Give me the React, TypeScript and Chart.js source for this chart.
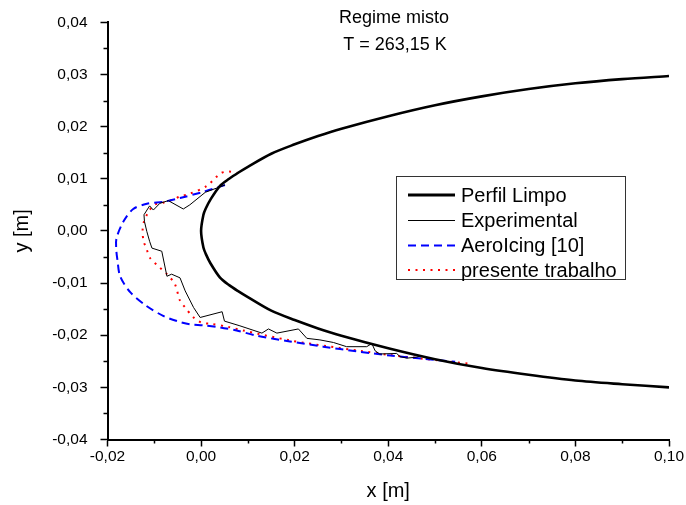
import React, { useEffect, useRef } from 'react';
import { Chart, registerables } from 'chart.js';

Chart.register(...registerables);

const FONT = '"Liberation Sans", Arial, sans-serif';

// Perfil Limpo (clean airfoil), upper surface from trailing side to leading edge, then lower surface
const profileX = [0.10, 0.09, 0.08, 0.07, 0.06, 0.05, 0.04, 0.03, 0.025, 0.02, 0.015, 0.010, 0.008, 0.006, 0.004, 0.002, 0.001, 0.0005, 0,
  0.0005, 0.001, 0.002, 0.004, 0.006, 0.008, 0.010, 0.015, 0.02, 0.025, 0.03, 0.04, 0.05, 0.06, 0.07, 0.08, 0.09, 0.10];
const profileY = [0.0297, 0.0291, 0.0283, 0.0272, 0.0258, 0.0241, 0.0220, 0.0196, 0.0182, 0.0166, 0.0148, 0.0123, 0.0112, 0.0100, 0.0086, 0.0060, 0.0043, 0.0031, 0,
  -0.0032, -0.0044, -0.0062, -0.0089, -0.0104, -0.0116, -0.0127, -0.0153, -0.0171, -0.0187, -0.0201, -0.0225, -0.0246, -0.0263, -0.0276, -0.0287, -0.0294, -0.0300];

// Experimental ice shape
const experimental: [number, number][] = [
  [0.0051, 0.0088], [0.0009, 0.0074], [-0.0024, 0.0050], [-0.0038, 0.0042], [-0.0070, 0.0058],
  [-0.0088, 0.0053], [-0.0102, 0.0040], [-0.0110, 0.0048], [-0.0122, 0.0031], [-0.0121, 0.0018],
  [-0.0116, -0.0001], [-0.0110, -0.0020], [-0.0105, -0.0033], [-0.0084, -0.0039], [-0.0073, -0.0087],
  [-0.0063, -0.0083], [-0.0045, -0.0090], [-0.0034, -0.0115], [-0.0016, -0.0147], [-0.0002, -0.0166],
  [0.0045, -0.0155], [0.0050, -0.0173], [0.0083, -0.0182], [0.0130, -0.0196], [0.0144, -0.0188],
  [0.0162, -0.0196], [0.0208, -0.0188], [0.0226, -0.0206], [0.0254, -0.0209], [0.0283, -0.0214],
  [0.0311, -0.0222], [0.0354, -0.0222], [0.0365, -0.0216], [0.0372, -0.0230], [0.0382, -0.0236],
  [0.0418, -0.0235], [0.0425, -0.0241], [0.0440, -0.0244], [0.0461, -0.0242], [0.0472, -0.0239],
];

// AeroIcing [10]
const aeroIcing: [number, number][] = [
  [0.0051, 0.0088], [0.0005, 0.0075], [-0.0045, 0.0063], [-0.0079, 0.0056], [-0.0116, 0.0052],
  [-0.0145, 0.0042], [-0.0166, 0.0018], [-0.0181, -0.0015], [-0.0181, -0.0039], [-0.0179, -0.0054],
  [-0.0173, -0.0087], [-0.0151, -0.0118], [-0.0118, -0.0143], [-0.0081, -0.0163], [-0.0051, -0.0173],
  [-0.0024, -0.0179], [0.0005, -0.0181], [0.0041, -0.0185], [0.0076, -0.0191], [0.0119, -0.0201],
  [0.0190, -0.0212], [0.0261, -0.0222], [0.0333, -0.0231], [0.0404, -0.0239], [0.0475, -0.0245],
  [0.0543, -0.0251],
];

// presente trabalho
const presente: [number, number][] = [
  [0.0080, 0.0111], [0.0058, 0.0114], [0.0041, 0.0110], [0.0012, 0.0086], [-0.0025, 0.0071],
  [-0.0045, 0.0066], [-0.0063, 0.0059], [-0.0081, 0.0054], [-0.0100, 0.0050], [-0.0114, 0.0034],
  [-0.0123, 0.0015], [-0.0125, -0.0001], [-0.0123, -0.0019], [-0.0116, -0.0036], [-0.0109, -0.0052],
  [-0.0091, -0.0068], [-0.0073, -0.0083], [-0.0056, -0.0102], [-0.0045, -0.0134], [-0.0034, -0.0147],
  [-0.0016, -0.0166], [0.0001, -0.0176], [0.0019, -0.0178], [0.0058, -0.0184], [0.0090, -0.0191],
  [0.0190, -0.0210], [0.0269, -0.0221], [0.0340, -0.0230], [0.0404, -0.0238], [0.0474, -0.0245],
  [0.0575, -0.0255],
];

const titleLines = ['Regime misto', 'T = 263,15 K'];
const legendLabels = ['Perfil Limpo', 'Experimental', 'AeroIcing [10]', 'presente trabalho'];

const fmt = (v: number) => (Math.abs(v) < 1e-9 ? '0,00' : v.toFixed(2).replace('.', ','));
const pts = (arr: [number, number][]) => arr.map(([x, y]) => ({ x, y }));

const decorPlugin = {
  id: 'decor',
  afterDraw(chart: any) {
    const ctx = chart.ctx as CanvasRenderingContext2D;
    const xs = chart.scales.x;
    const ys = chart.scales.y;
    const area = chart.chartArea;
    ctx.save();
    // minor ticks
    ctx.strokeStyle = '#000';
    ctx.lineWidth = 1.5;
    const xt = xs.ticks.map((t: any) => t.value);
    for (let i = 0; i < xt.length - 1; i++) {
      const px = Math.round(xs.getPixelForValue((xt[i] + xt[i + 1]) / 2)) + 0.5;
      ctx.beginPath();
      ctx.moveTo(px, area.bottom);
      ctx.lineTo(px, area.bottom + 4);
      ctx.stroke();
    }
    const yt = ys.ticks.map((t: any) => t.value);
    for (let i = 0; i < yt.length - 1; i++) {
      const py = Math.round(ys.getPixelForValue((yt[i] + yt[i + 1]) / 2)) + 0.5;
      ctx.beginPath();
      ctx.moveTo(area.left, py);
      ctx.lineTo(area.left - 4, py);
      ctx.stroke();
    }
    // title
    ctx.fillStyle = '#000';
    ctx.font = `18px ${FONT}`;
    ctx.textAlign = 'center';
    ctx.textBaseline = 'middle';
    ctx.fillText(titleLines[0], 394, 18);
    ctx.fillText(titleLines[1], 395, 45);
    // legend
    const bx = 396.5, by = 176.5, bw = 229, bh = 103;
    ctx.fillStyle = '#fff';
    ctx.fillRect(bx, by, bw, bh);
    ctx.strokeStyle = '#333';
    ctx.lineWidth = 1;
    ctx.strokeRect(bx, by, bw, bh);
    const rows = [195, 220.5, 245.5, 270];
    const styles = [
      { c: '#000', w: 3, d: [] as number[] },
      { c: '#000', w: 1, d: [] as number[] },
      { c: '#0000ff', w: 2, d: [8, 5] },
      { c: '#ff0000', w: 2, d: [2, 5.5] },
    ];
    ctx.font = `20px ${FONT}`;
    ctx.textAlign = 'left';
    legendLabels.forEach((lab, i) => {
      const s = styles[i];
      ctx.strokeStyle = s.c;
      ctx.lineWidth = s.w;
      ctx.setLineDash(s.d);
      ctx.beginPath();
      ctx.moveTo(408, rows[i]);
      ctx.lineTo(455, rows[i]);
      ctx.stroke();
      ctx.setLineDash([]);
      ctx.fillStyle = '#000';
      ctx.fillText(lab, 461, rows[i] + 1);
    });
    ctx.restore();
  },
};

export default function App() {
  const ref = useRef<HTMLCanvasElement | null>(null);
  useEffect(() => {
    document.body.style.margin = '0';
    if (!ref.current) return;
    const chart = new Chart(ref.current, {
      type: 'scatter',
      data: {
        datasets: [
          {
            label: legendLabels[0],
            data: profileX.map((x, i) => ({ x, y: profileY[i] })),
            showLine: true, borderColor: '#000', borderWidth: 2.6, pointRadius: 0, tension: 0.3,
          },
          {
            label: legendLabels[1],
            data: pts(experimental),
            showLine: true, borderColor: '#000', borderWidth: 1, pointRadius: 0, tension: 0,
          },
          {
            label: legendLabels[2],
            data: pts(aeroIcing),
            showLine: true, borderColor: '#0000ff', borderWidth: 2, borderDash: [8, 5], pointRadius: 0, tension: 0.3,
          },
          {
            label: legendLabels[3],
            data: pts(presente),
            showLine: true, borderColor: '#ff0000', borderWidth: 2, borderDash: [2, 5.5], pointRadius: 0, tension: 0.3,
          },
        ],
      },
      options: {
        animation: false,
        responsive: false,
        maintainAspectRatio: false,
        layout: { padding: { top: 19.5, right: 17, bottom: 0, left: 0 } },
        plugins: { legend: { display: false }, tooltip: { enabled: false }, title: { display: false } },
        scales: {
          x: {
            type: 'linear', position: 'bottom', min: -0.02, max: 0.10,
            afterFit: (s: any) => { s.height = 65.5; },
            ticks: {
              stepSize: 0.02, autoSkip: false, maxRotation: 0, padding: 1, color: '#000',
              font: { family: FONT, size: 15.5 }, callback: (v: any) => fmt(Number(v)),
            },
            grid: { drawOnChartArea: false, tickLength: 7, tickColor: '#000', tickWidth: 1.5 },
            border: { color: '#000', width: 2 },
            title: { display: true, text: 'x [m]', color: '#000', font: { family: FONT, size: 20 }, padding: { top: 0, bottom: 2 } },
          },
          y: {
            type: 'linear', position: 'left', min: -0.04, max: 0.04,
            afterFit: (s: any) => { s.width = 107.5; },
            ticks: {
              stepSize: 0.01, autoSkip: false, padding: 13, color: '#000',
              font: { family: FONT, size: 15.5 }, callback: (v: any) => fmt(Number(v)),
            },
            grid: { drawOnChartArea: false, tickLength: 7, tickColor: '#000', tickWidth: 1.5 },
            border: { color: '#000', width: 2 },
            title: { display: true, text: 'y [m]', color: '#000', font: { family: FONT, size: 20 }, padding: { top: 10, bottom: 0 } },
          },
        },
      },
      plugins: [decorPlugin],
    } as any);
    return () => chart.destroy();
  }, []);
  return (
    <div style={{ width: 686, height: 505, background: '#fff' }}>
      <canvas ref={ref} width={686} height={505} style={{ display: 'block', width: 686, height: 505 }} />
    </div>
  );
}
